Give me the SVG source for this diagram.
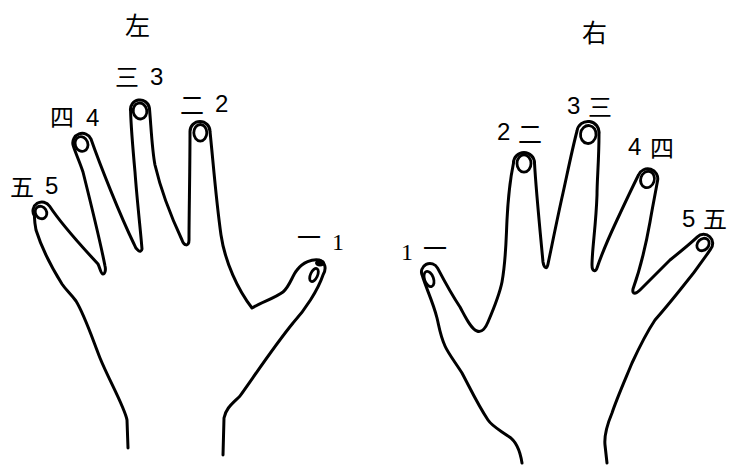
<svg xmlns="http://www.w3.org/2000/svg" width="730" height="466" viewBox="0 0 730 466">
<style>
.hand{fill:none;stroke:#000;stroke-width:3;stroke-linecap:round;stroke-linejoin:round}
.nail{fill:#fff;stroke:#000;stroke-width:2.8}
.cjk{font-family:"Noto Sans CJK SC","Noto Sans CJK JP",sans-serif;font-size:24px;fill:#000}
.num{font-family:"Liberation Sans Narrow","Liberation Sans",sans-serif;font-size:24px;fill:#000}
.num1{font-family:"Liberation Serif",serif;font-size:24px;fill:#000}
.title{font-family:"Noto Sans CJK SC","Noto Sans CJK JP",sans-serif;font-size:25px;fill:#000}
</style>
<rect width="730" height="466" fill="#fff"/>
<g id="left-hand">
<path class="hand" d="M128,448 L127,420 C125,408 108,378 100,358 C90,332 84,314 76,301 C70,293 66,290 62,284 C52,268 41,246 36,230 C35,225 34.5,220 34.35,215.8 A9,9 0 0 1 49.65,206.2 C62,225 85,250 98,264 C100,268 101,274 103,274 C105,274 106,270 105,266 C100,240 90,200 83,172 C79,160 75,152 73.1,145.2 A9.5,9.5 0 0 1 90.9,138.8 C100,165 120,215 134,244 C136,250 141,254 142,249 C141,235 137,200 135,172 C133,150 131,128 130.6,111.1 A9.5,9.5 0 0 1 149.4,107.9 C151,125 152,150 155,165 C162,195 175,225 182,240 C184,246 189,247 189,240 C189,215 190,170 190,131.5 A10,10 0 0 1 210,131.5 C213,160 216,200 221,235 C225,262 238,290 252,308 C262,302 275,298 283,292 C290,286 292,276 297,270 C303,262 312,259 319,260 C325,262 327,268 323,275 C318,290 305,310 293,323 C275,345 255,375 240,396 C232,404 226,408 224,418 L223,455"/>
<ellipse class="nail" cx="41" cy="212.5" rx="5.5" ry="6.5" transform="rotate(-32 41 212.5)"/>
<ellipse class="nail" cx="81.5" cy="144" rx="6.3" ry="7.5" transform="rotate(-20 81.5 144)"/>
<ellipse class="nail" cx="140" cy="111" rx="6.8" ry="8" transform="rotate(-10 140 111)"/>
<ellipse class="nail" cx="200.3" cy="132.8" rx="6.5" ry="8.3"/>
<ellipse cx="320" cy="263" rx="5" ry="3.5" fill="#000"/>
<ellipse class="nail" cx="314" cy="275" rx="3.5" ry="7" transform="rotate(25 314 275)"/>
</g>
<g id="right-hand">
<path class="hand" d="M522,463 C520,450 515,440 508,436 C498,429 492,426 488,420 C478,405 470,388 462,373 C455,362 448,353 445,346 C440,335 439,326 437,318 C433,302 426,288 422.4,275.9 A8.5,8.5 0 0 1 437.6,268.1 C447,286 454,298 460,307 C466,318 471,329 477,331 C482,333 486,327 488,322 C494,308 500,292 502,282 C506,260 506,240 507,220 C508,200 510,180 513.5,163 A10.5,10.5 0 0 1 534.5,163 C536,190 540,230 543,262 C544,268 547,270 548,264 C552,245 558,215 563,193 C567,175 572,150 577,131 A11,11 0 0 1 599,134 C599,160 597,180 597,195 C596,225 592,250 592,265 C592,272 596,272 597,268 C603,250 610,235 617,220 C624,205 632,188 638.5,175 A10,10 0 0 1 657.5,181 C655,195 652,210 650,222 C645,250 638,275 633,289 C632,295 636,294 640,290 C650,280 660,270 670,260 C680,252 690,244 697.4,236.9 A9,9 0 0 1 710.6,249.1 C700,265 690,278 680,290 C672,300 662,312 655,320 C645,335 638,350 632,363 C625,380 617,398 612,413 C607,425 604,435 605,445 L607,463"/>
<ellipse class="nail" cx="429" cy="279" rx="4.5" ry="8" transform="rotate(-20 429 279)"/>
<ellipse class="nail" cx="524" cy="163.5" rx="7" ry="8.7"/>
<ellipse class="nail" cx="588.3" cy="134.5" rx="7.8" ry="9" transform="rotate(7 588.3 134.5)"/>
<ellipse class="nail" cx="647.5" cy="179.5" rx="6.8" ry="8.3" transform="rotate(18 647.5 179.5)"/>
<ellipse class="nail" cx="703" cy="244.5" rx="5.5" ry="6.8" transform="rotate(43 703 244.5)"/>
</g>
<g id="labels-left">
<text class="title" x="125" y="35">左</text>
<text class="cjk" x="115" y="86">三</text><text class="num" x="150" y="85">3</text>
<text class="cjk" x="50" y="126">四</text><text class="num" x="86" y="126">4</text>
<text class="cjk" x="180" y="114">二</text><text class="num" x="215" y="112">2</text>
<text class="cjk" x="10" y="196">五</text><text class="num" x="45" y="194">5</text>
<text class="cjk" x="297" y="246">一</text><text class="num1" x="332" y="250">1</text>
</g>
<g id="labels-right">
<text class="title" x="582" y="42">右</text>
<text class="num" x="497" y="140">2</text><text class="cjk" x="518" y="143">二</text>
<text class="num" x="567" y="114">3</text><text class="cjk" x="588" y="116">三</text>
<text class="num" x="628" y="155">4</text><text class="cjk" x="650" y="157">四</text>
<text class="num" x="682" y="227">5</text><text class="cjk" x="703" y="228">五</text>
<text class="num1" x="401" y="260">1</text><text class="cjk" x="423" y="257">一</text>
</g>
</svg>
